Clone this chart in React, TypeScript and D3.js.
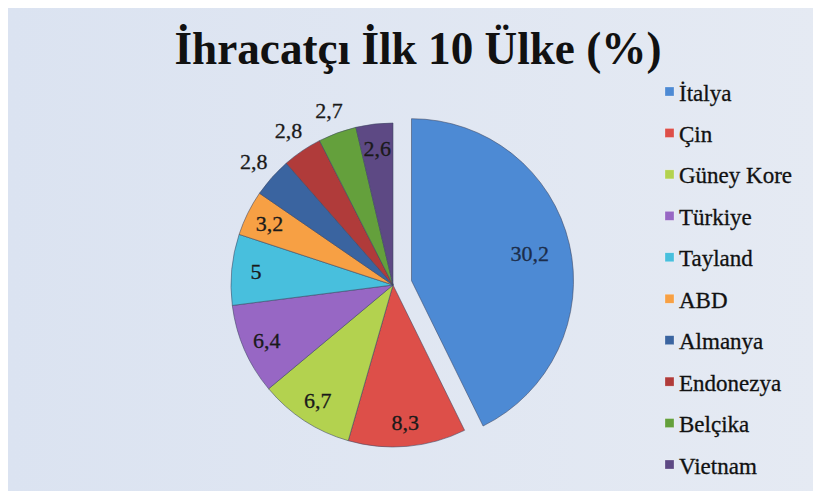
import React from "react";
import * as d3 from "d3";

// data
const countries = [
  "İtalya",
  "Çin",
  "Güney Kore",
  "Türkiye",
  "Tayland",
  "ABD",
  "Almanya",
  "Endonezya",
  "Belçika",
  "Vietnam",
];
const shares = [30.2, 8.3, 6.7, 6.4, 5, 3.2, 2.8, 2.8, 2.7, 2.6];
const colors = [
  "#4d8ad4",
  "#dd4f49",
  "#b3d24f",
  "#9767c4",
  "#48bfdd",
  "#f7a044",
  "#3a64a0",
  "#b03b3a",
  "#64a03c",
  "#5d4984",
];
// slices whose label sits outside the pie
const outsideLabels = ["Almanya", "Endonezya", "Belçika"];
const exploded = "İtalya";

const W = 813;
const H = 483;
const cx = 385;
const cy = 277;
const R = 162;
const explode = 19;
const serif = "Liberation Serif";

const fmt = (v: number) => d3.format("~g")(v).replace(".", ",");

export default function App() {
  const rows = countries.map((c, i) => ({ name: c, value: shares[i], color: colors[i] }));
  const pie = d3.pie<any>().value((d) => d.value).sort(null).startAngle(0).endAngle(2 * Math.PI);
  const arcs = pie(rows);
  const arc = d3.arc<any>().innerRadius(0).outerRadius(R);

  const legendY = d3.scalePoint<string>().domain(countries).range([84, 457]);

  return (
    <svg width={W} height={H} style={{ display: "block" }}>
      <defs>
        <linearGradient id="bg" x1="0" x2="1" y1="0" y2="0">
          <stop offset="0" stopColor="#dbe3f1" />
          <stop offset="1" stopColor="#e5eaf3" />
        </linearGradient>
      </defs>
      <rect width={W} height={H} fill="url(#bg)" />

      <text
        x={410}
        y={56}
        textAnchor="middle"
        fontFamily={serif}
        fontWeight="bold"
        fontSize={47}
        fill="#111"
        textLength={487}
        lengthAdjust="spacingAndGlyphs"
      >
        İhracatçı İlk 10 Ülke (%)
      </text>

      <g>
        {arcs.map((a) => {
          const mid = (a.startAngle + a.endAngle) / 2;
          const off = a.data.name === exploded ? explode : 0;
          const dx = Math.sin(mid) * off;
          const dy = -Math.cos(mid) * off;
          return (
            <path
              key={a.data.name}
              transform={`translate(${cx + dx},${cy + dy})`}
              d={arc(a) as string}
              fill={a.data.color}
              stroke="#3c4660"
              strokeOpacity={0.55}
              strokeWidth={1}
            />
          );
        })}
      </g>

      <g>
        {arcs.map((a) => {
          const mid = (a.startAngle + a.endAngle) / 2;
          const isEx = a.data.name === exploded;
          const off = isEx ? explode : 0;
          const k = outsideLabels.includes(a.data.name) ? 1.15 : isEx ? 0.75 : 0.85;
          const x = cx + Math.sin(mid) * (R * k + off);
          const y = cy - Math.cos(mid) * (R * k + off);
          return (
            <text
              key={a.data.name}
              x={x}
              y={y}
              textAnchor="middle"
              dominantBaseline="central"
              fontFamily={serif}
              fontSize={22}
              fill={isEx ? "#1c2d4a" : "#1a1a1a"}
              stroke={isEx ? "#1c2d4a" : "#1a1a1a"}
              strokeWidth={0.3}
            >
              {fmt(a.data.value)}
            </text>
          );
        })}
      </g>

      <g>
        {rows.map((r) => (
          <g key={r.name} transform={`translate(657,${legendY(r.name)})`}>
            <rect x={0} y={-5} width={9} height={9} fill={r.color} stroke="#fff" strokeOpacity={0.5} strokeWidth={0.5} />
            <text
              x={14}
              y={1}
              dominantBaseline="central"
              fontFamily={serif}
              fontSize={23}
              fill="#111"
              stroke="#111"
              strokeWidth={0.3}
            >
              {r.name}
            </text>
          </g>
        ))}
      </g>
    </svg>
  );
}
